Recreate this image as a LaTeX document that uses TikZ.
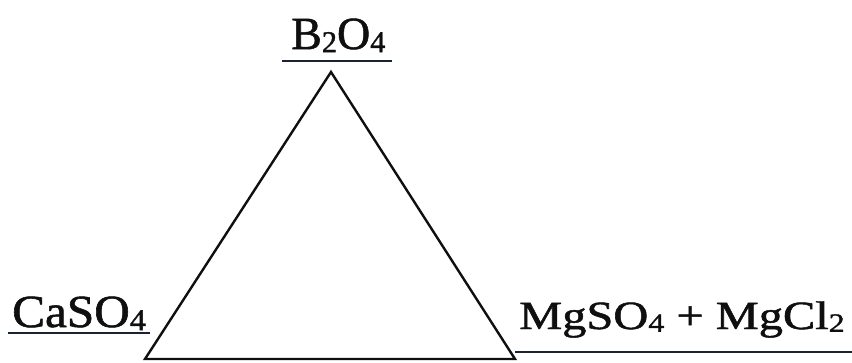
\documentclass[tikz,border=0pt]{standalone}
\usepackage{fontspec}
\setmainfont{Liberation Serif}
\newfontfamily\lblfont[FakeBold=1.2]{Liberation Serif}
\newcommand\chsub[1]{\raisebox{-0.07em}{\scalebox{0.66}{#1}}}
\definecolor{ulcol}{RGB}{25,35,50}
\definecolor{inkcol}{RGB}{15,15,15}
\begin{document}
\begin{tikzpicture}[x=1pt,y=-1pt,
  edge/.style={line width=2.4pt, draw=inkcol, line join=miter},
  uline/.style={line width=2.6pt, draw=ulcol},
  lbl/.style={inner sep=0pt, anchor=base west, text=inkcol}]
\useasboundingbox (0,0) rectangle (852,362);
% triangle
\coordinate (A) at (331,72);
\coordinate (B) at (145,359);
\coordinate (C) at (515,359);
\draw[edge] (A) -- (B) -- (C) -- cycle;
% labels
\node[lbl, font=\lblfont\fontsize{46}{54}\selectfont] (top) at (291,49) {B\chsub{2}O\chsub{4}};
\node[lbl, font=\lblfont\fontsize{46}{54}\selectfont, xscale=1.07] (left) at (12,327) {CaSO\chsub{4}};
\node[lbl, font=\lblfont\fontsize{40}{46}\selectfont, xscale=1.21] (right) at (519,329) {MgSO\chsub{4} + MgCl\chsub{2}};
% underlines
\coordinate (t1) at (282,61); \coordinate (t2) at (392,61);
\coordinate (l1) at (8,333); \coordinate (l2) at (150,333);
\coordinate (r1) at (515,352); \coordinate (r2) at (852,352);
\draw[uline] (t1) -- (t2);
\draw[uline] (l1) -- (l2);
\draw[uline] (r1) -- (r2);
\end{tikzpicture}
\end{document}
